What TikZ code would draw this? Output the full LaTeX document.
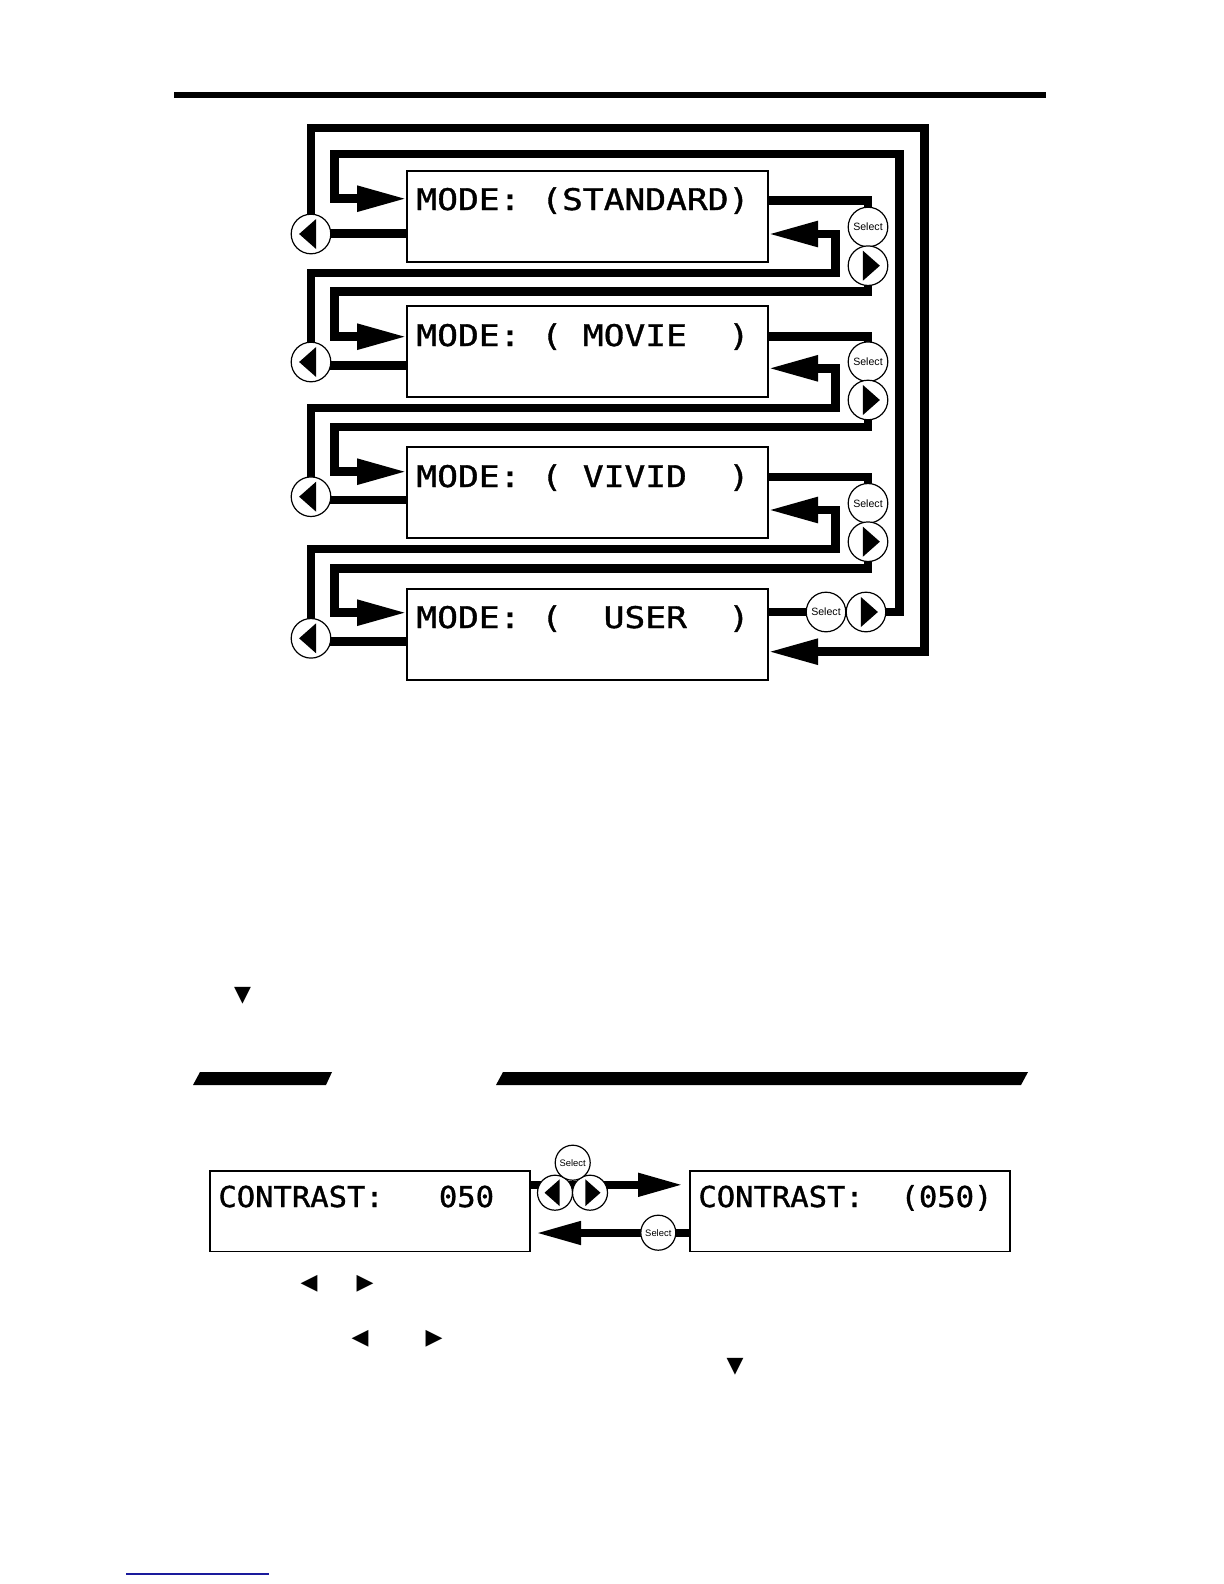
\documentclass[tikz,border=0pt]{standalone}
\usepackage{fontspec}
\setmainfont{Liberation Sans}
\newfontfamily\lcdfont[FakeStretch=1.16,FakeBold=1.2]{DejaVu Sans Mono}
\newfontfamily\lcdnarrow[FakeStretch=1.06,FakeBold=1.2]{DejaVu Sans Mono}
\newfontfamily\glyphfont{DejaVu Sans}
\usetikzlibrary{arrows.meta,calc,backgrounds}
\definecolor{linkBlue}{HTML}{1A1A9C}

\begin{document}
\begin{tikzpicture}[x=0.5pt,y=-0.5pt,
    modebox/.style={draw,line width=0.8pt,inner sep=0pt,outer sep=0pt,anchor=north west,minimum width=180.5pt,minimum height=45.5pt},
    ctbox/.style={draw,line width=0.8pt,inner sep=0pt,outer sep=0pt,anchor=north west,minimum width=160pt,minimum height=40.3pt},
    lcd/.style={font=\lcdfont\fontsize{14.9}{18}\selectfont,anchor=base west,inner sep=0pt},
    lcdsmall/.style={font=\lcdnarrow\fontsize{14.4}{17}\selectfont,anchor=base west,inner sep=0pt},
    glyph/.style={font=\glyphfont\fontsize{11}{12}\selectfont,inner sep=0pt},
    wire/.style={line width=4.25pt},
    feed/.style={wire,-{Triangle[length=25pt,width=12pt]}},
    cfeed/.style={line width=3.8pt,-{Triangle[length=22.5pt,width=11pt]}},
    btn/.style={circle,draw,fill=white,line width=0.6pt,inner sep=0pt,outer sep=0pt,minimum size=#1},
    btn/.default=19.8pt,
    leftbtn/.style={btn=#1,path picture={\fill[black] (path picture bounding box.center) ++(-0.3*#1,0pt) -- ++(0.43*#1,0.38*#1) -- ++(0pt,-0.76*#1) -- cycle;}},
    leftbtn/.default=19.8pt,
    rightbtn/.style={btn=#1,path picture={\fill[black] (path picture bounding box.center) ++(0.3*#1,0pt) -- ++(-0.43*#1,0.38*#1) -- ++(0pt,-0.76*#1) -- cycle;}},
    rightbtn/.default=19.8pt,
    selbtn/.style={btn=#1,font=\fontsize{5.3}{6}\selectfont},
    selbtn/.default=19.8pt
]
\useasboundingbox (0,0) rectangle (1224,1584);

% Header rule
\fill (174,92) rectangle (1046,98);

% Picture mode screens
\node[modebox] at (407,171) (std) {};
\node[modebox] at (407,306) (mov) {};
\node[modebox] at (407,447) (viv) {};
\node[modebox] at (407,589) (usr) {};

\node[lcd] at (416,210) (std_txt) {MODE:~(STANDARD)};
\node[lcd] at (416,346) (mov_txt) {MODE:~(~MOVIE~~)};
\node[lcd] at (416,487) (viv_txt) {MODE:~(~VIVID~~)};
\node[lcd] at (416,628) (usr_txt) {MODE:~(~~USER~~)};

% Left buttons
\node[leftbtn] at (311,234) (std_l) {};
\node[leftbtn] at (311,362) (mov_l) {};
\node[leftbtn] at (311,496.7) (viv_l) {};
\node[leftbtn] at (311,638.3) (usr_l) {};

% Select and right buttons
\node[selbtn] at (868,227) (std_s) {Select};
\node[rightbtn] at (868,265.7) (std_r) {};
\node[selbtn] at (868,361.7) (mov_s) {Select};
\node[rightbtn] at (868,400) (mov_r) {};
\node[selbtn] at (868,503.3) (viv_s) {Select};
\node[rightbtn] at (868,541.7) (viv_r) {};
\node[selbtn] at (826,612) (usr_s) {Select};
\node[rightbtn] at (866,612) (usr_r) {};

\begin{scope}[on background layer]
% forward: screen -> Select -> right -> next screen
\draw[feed] (std.east |- 0,200.5) -| (std_s |- 0,291.5) -| (334.5,336.7) -- (mov.west |- 0,336.7);
\draw[feed] (mov.east |- 0,336.5) -| (mov_s |- 0,427) -| (334.5,471.7) -- (viv.west |- 0,471.7);
\draw[feed] (viv.east |- 0,477) -| (viv_s |- 0,568.3) -| (334.5,612.7) -- (usr.west |- 0,612.7);
\draw[feed] (usr.east |- 0,612) -| (899.5,154) -| (334.5,198.7) -- (std.west |- 0,198.7);
% backward: screen -> left -> previous screen
\draw[feed] (std.west |- 0,233.5) -| (std_l |- 0,128) -| (924.5,651.7) -- (usr.east |- 0,651.7);
\draw[feed] (mov.west |- 0,365.5) -| (mov_l |- 0,273) -| (835.5,234) -- (std.east |- 0,234);
\draw[feed] (viv.west |- 0,500) -| (viv_l |- 0,408) -| (835.5,368.3) -- (mov.east |- 0,368.3);
\draw[feed] (usr.west |- 0,641.5) -| (usr_l |- 0,549) -| (835.5,510) -- (viv.east |- 0,510);
\end{scope}

% Text markers
\node[glyph] at (242.5,995.5) (mark_a) {▼};

% Section bars
\fill (193,1085) -- (200,1072) -- (332,1072) -- (326,1085) -- cycle;
\fill (496,1085) -- (503,1072) -- (1028,1072) -- (1021,1085) -- cycle;

% Contrast screens
\node[ctbox] at (210,1171) (ct_l) {};
\node[ctbox] at (690,1171) (ct_r) {};
\node[lcdsmall] at (218,1207) (ct_l_txt) {CONTRAST:~~~050};
\node[lcdsmall] at (698,1207) (ct_r_txt) {CONTRAST:~~(050)};

\node[leftbtn=17.5pt] at (555,1192.7) (ct_lb) {};
\node[rightbtn=17.5pt] at (590,1192.7) (ct_rb) {};
\node[selbtn=17.5pt,font=\fontsize{4.7}{5}\selectfont] at (572.7,1162.7) (ct_s1) {Select};
\node[selbtn=17.5pt,font=\fontsize{4.7}{5}\selectfont] at (658.3,1232.7) (ct_s2) {Select};

\begin{scope}[on background layer]
\draw[cfeed,shorten >=3.5pt] (ct_l.east |- 0,1184.8) -- (ct_r.west |- 0,1184.8);
\draw[cfeed,shorten >=3pt] (ct_r.west |- 0,1233) -- (ct_l.east |- 0,1233);
\end{scope}

% Text markers below
\node[glyph] at (309,1284) (mark_b) {◀};
\node[glyph] at (365,1284) (mark_c) {▶};
\node[glyph] at (360,1339) (mark_d) {◀};
\node[glyph] at (434,1339) (mark_e) {▶};
\node[glyph] at (735,1366.5) (mark_f) {▼};

% Link underline
\draw[linkBlue,line width=0.7pt] (126,1574) -- (269,1574);

\end{tikzpicture}
\end{document}
